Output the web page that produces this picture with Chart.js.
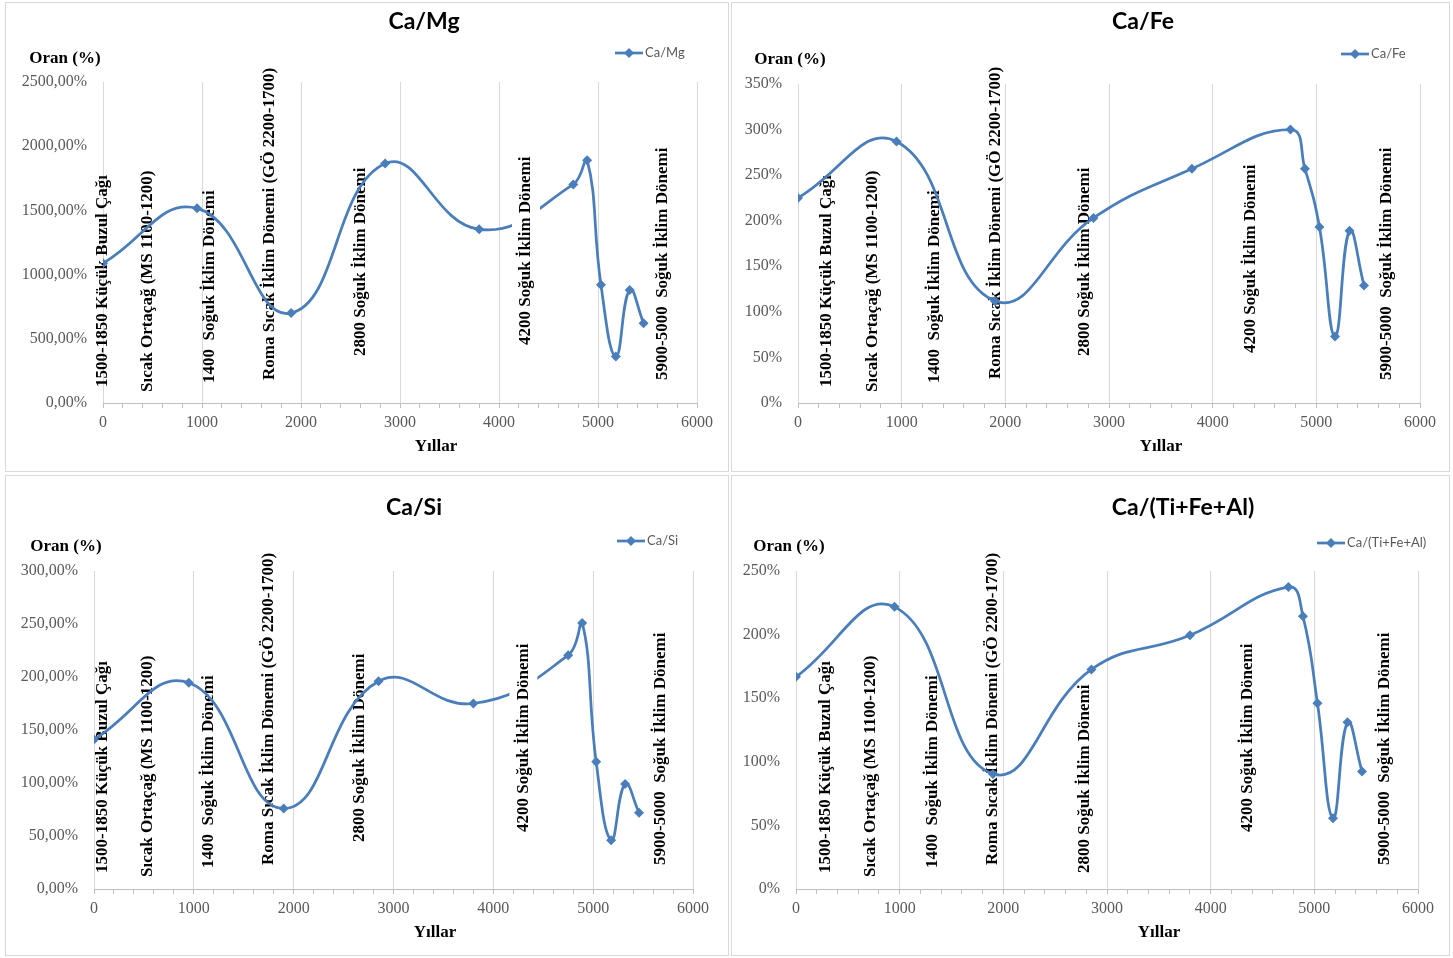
<!DOCTYPE html>
<html>
<head>
<meta charset="utf-8">
<script src="https://cdn.jsdelivr.net/npm/chart.js@4.4.0/dist/chart.umd.min.js"></script>
<style>
body { margin: 0; background: #fff; }
#wrap { position: relative; width: 1453px; height: 958px; overflow: hidden; }
.panel { position: absolute; border: 1px solid #d9d9d9; box-sizing: border-box; }
canvas { position: absolute; }
</style>
</head>
<body>
<div id="wrap">
	<div class="panel" style="left:5px;top:2px;width:724px;height:470px"></div>
	<div class="panel" style="left:731px;top:2px;width:719px;height:470px"></div>
	<div class="panel" style="left:5px;top:475px;width:724px;height:481px"></div>
	<div class="panel" style="left:731px;top:475px;width:719px;height:481px"></div>
	<canvas id="chart1" width="724" height="470" style="left:5px;top:2px"></canvas>
	<canvas id="chart2" width="719" height="470" style="left:731px;top:2px"></canvas>
	<canvas id="chart3" width="724" height="481" style="left:5px;top:475px"></canvas>
	<canvas id="chart4" width="719" height="481" style="left:731px;top:475px"></canvas>
</div>
<script>

// years (x) shared by every series
var years = [0, 950, 1900, 2850, 3800, 4750, 4890, 5030, 5180, 5320, 5460];

// ratios in %
var caMg = [1088, 1516, 700, 1866, 1353, 1702, 1891, 920, 362, 881, 622];
var caFe = [225, 287, 112, 203, 257, 300, 257, 193, 73, 189, 129];
var caSi = [141, 194.5, 76, 196, 175, 220.6, 251, 120, 46, 99, 72];
var caTiFeAl = [166.8, 221.8, 90.5, 172.6, 199.5, 237.4, 214.4, 146, 55.7, 131, 92.3];

var periods = [
	"1500-1850 Küçük Buzul Çağı",
	"Sıcak Ortaçağ (MS 1100-1200)",
	"1400  Soğuk İklim Dönemi",
	"Roma Sıcak İklim Dönemi (GÖ 2200-1700)",
	"2800 Soğuk İklim Dönemi",
	"4200 Soğuk İklim Dönemi",
	"5900-5000  Soğuk İklim Dönemi"
];
var xTitle = "Yıllar";
var yTitle = "Oran (%)";

var blue = '#4a7ebb';
var serif = "'Liberation Serif', 'Times New Roman', serif";
var sans = "Lato, 'Open Sans', sans-serif";

function diamond(ctx, x, y, r){
	ctx.beginPath();
	ctx.moveTo(x, y - r);
	ctx.lineTo(x + r, y);
	ctx.lineTo(x, y + r);
	ctx.lineTo(x - r, y);
	ctx.closePath();
	ctx.fill();
}

function makeChart(id, name, values, yMax, yCount, decimals, lay){
	var decor = {
		id: 'decor',
		beforeDatasetsDraw: function(chart){
			var ctx = chart.ctx;
			var bottom = chart.chartArea.bottom;
			ctx.save();
			ctx.fillStyle = '#000';
			ctx.font = 'bold 17px ' + serif;
			ctx.textAlign = 'left';
			ctx.textBaseline = 'middle';
			for(var i = 0; i < periods.length; i++){
				if(i == 5) continue;
				var px = chart.scales.x.getPixelForValue(lay.labelX[i]);
				ctx.save();
				ctx.translate(px, bottom - lay.labelUp[i]);
				ctx.rotate(-Math.PI / 2);
				ctx.fillText(periods[i], 0, 0);
				ctx.restore();
			}
			ctx.restore();
		},
		afterDatasetsDraw: function(chart){
			// the 4200 text box has a white fill and sits over the line
			var ctx = chart.ctx;
			var bottom = chart.chartArea.bottom;
			ctx.save();
			ctx.font = 'bold 17px ' + serif;
			var w = ctx.measureText(periods[5]).width;
			var px = chart.scales.x.getPixelForValue(lay.labelX[5]);
			var py = bottom - lay.labelUp[5];
			ctx.fillStyle = '#fff';
			ctx.fillRect(px - 14, py - w - 14, 28, w + 28);
			ctx.fillStyle = '#000';
			ctx.textAlign = 'left';
			ctx.textBaseline = 'middle';
			ctx.translate(px, py);
			ctx.rotate(-Math.PI / 2);
			ctx.fillText(periods[5], 0, 0);
			ctx.restore();
		},
		afterDraw: function(chart){
			var ctx = chart.ctx;
			ctx.save();
			ctx.fillStyle = '#000';
			ctx.textBaseline = 'middle';
			ctx.textAlign = 'center';
			ctx.font = 'bold 23px ' + sans;
			ctx.fillText(name, lay.title[0], lay.title[1]);
			ctx.font = 'bold 17px ' + serif;
			ctx.fillText(yTitle, lay.oran[0], lay.oran[1]);
			ctx.fillText(xTitle, lay.xlab[0], lay.xlab[1]);
			// legend
			var lx = lay.legend[0], ly = lay.legend[1];
			ctx.strokeStyle = blue;
			ctx.lineWidth = 2.75;
			ctx.beginPath();
			ctx.moveTo(lx, ly);
			ctx.lineTo(lx + 28, ly);
			ctx.stroke();
			ctx.fillStyle = blue;
			diamond(ctx, lx + 14, ly, 5);
			ctx.fillStyle = '#595959';
			ctx.textAlign = 'left';
			ctx.font = '13px ' + sans;
			ctx.fillText(name, lx + 30, ly);
			ctx.restore();
		}
	};

	var pts = [];
	for(var i = 0; i < years.length; i++){
		pts.push({x: years[i], y: values[i]});
	}

	return new Chart(document.getElementById(id), {
		type: 'line',
		data: {
			datasets: [{
				label: name,
				data: pts,
				borderColor: blue,
				backgroundColor: blue,
				borderWidth: 2.75,
				tension: 0.45,
				pointStyle: 'rectRot',
				pointRadius: 5,
				pointBorderWidth: 0,
				pointBackgroundColor: blue
			}]
		},
		options: {
			responsive: false,
			animation: false,
			layout: { padding: { top: lay.top, right: lay.right, left: 0, bottom: 0 } },
			plugins: {
				legend: { display: false },
				title: { display: false },
				tooltip: { enabled: false }
			},
			scales: {
				x: {
					type: 'linear',
					min: 0,
					max: 6000,
					afterFit: function(s){ s.height = lay.xh; },
					ticks: {
						count: 31,
						maxTicksLimit: 40,
						autoSkip: false,
						maxRotation: 0,
						padding: 5,
						color: '#595959',
						font: { family: serif, size: 16 },
						callback: function(v){ return v % 1000 === 0 ? String(v) : ''; }
					},
					grid: {
						color: function(c){ return c.tick && c.tick.value % 1000 === 0 ? '#d9d9d9' : 'rgba(0,0,0,0)'; },
						tickColor: '#bfbfbf',
						tickLength: 5
					},
					border: { color: '#bfbfbf' }
				},
				y: {
					min: 0,
					max: yMax,
					afterFit: function(s){ s.width = lay.left; },
					ticks: {
						count: yCount,
						padding: 16,
						color: '#595959',
						font: { family: serif, size: 16 },
						callback: function(v){
							if(decimals) return v.toFixed(2).replace('.', ',') + '%';
							return v + '%';
						}
					},
					grid: { display: false, drawTicks: false },
					border: { display: false }
				}
			}
		},
		plugins: [decor]
	});
}

var chart1 = makeChart('chart1', 'Ca/Mg', caMg, 2500, 6, true, {
	left: 98, top: 80, right: 32, xh: 69,
	title: [419, 20], oran: [60, 57], xlab: [431, 445], legend: [610, 51],
	labelX: [0, 455, 1076, 1687, 2606, 4273, 5657],
	labelUp: [16, 11, 20, 23, 47, 58, 23]
});
var chart2 = makeChart('chart2', 'Ca/Fe', caFe, 350, 8, false, {
	left: 67, top: 82, right: 30, xh: 69,
	title: [412, 20], oran: [59, 58], xlab: [430, 445], legend: [610, 52],
	labelX: [280, 716, 1314, 1902, 2769, 4368, 5680],
	labelUp: [16, 11, 20, 24, 47, 50, 23]
});
var chart3 = makeChart('chart3', 'Ca/Si', caSi, 300, 7, true, {
	left: 89, top: 96, right: 36, xh: 67,
	title: [409, 33], oran: [61, 72], xlab: [430, 458], legend: [612, 66],
	labelX: [88, 535, 1148, 1752, 2659, 4301, 5673],
	labelUp: [16, 12, 21, 24, 47, 57, 24]
});
var chart4 = makeChart('chart4', 'Ca/(Ti+Fe+Al)', caTiFeAl, 250, 6, false, {
	left: 65, top: 96, right: 32, xh: 67,
	title: [452, 33], oran: [58, 72], xlab: [428, 458], legend: [586, 68],
	labelX: [284, 719, 1320, 1898, 2786, 4354, 5677],
	labelUp: [16, 12, 21, 24, 16, 57, 24]
});

</script>
</body>
</html>
